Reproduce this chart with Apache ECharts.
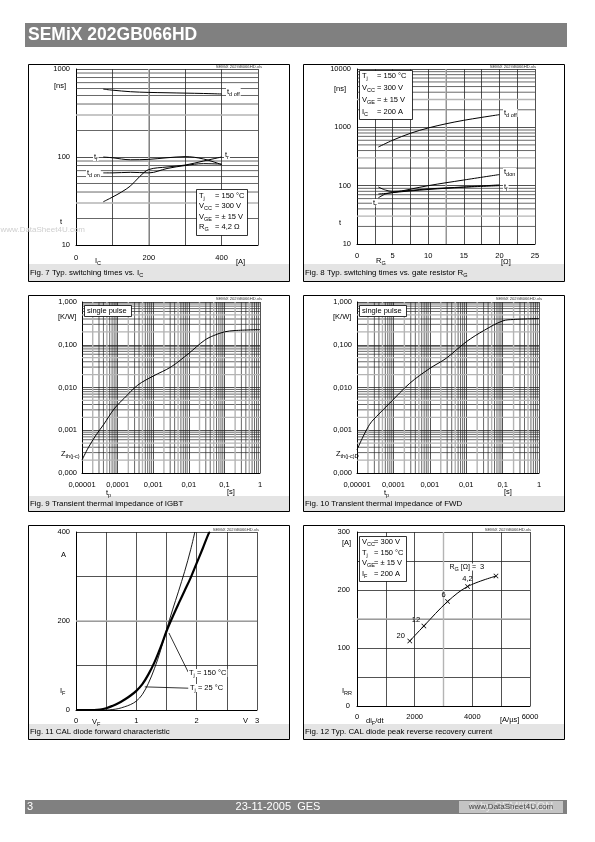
<!DOCTYPE html>
<html><head><meta charset="utf-8">
<script src="https://cdn.jsdelivr.net/npm/echarts@6/dist/echarts.min.js"></script>
<style>html,body{margin:0;padding:0;background:#fff}#c{width:595px;height:842px}</style>
</head><body><div id="c"></div>
<script>
const FONT = '"Liberation Sans", Arial, Helvetica, sans-serif';

// ---------- Fig 7: switching times vs I_C ----------
const f7X = [75, 100, 150, 200, 250, 300, 350, 400];
const f7TdOff = [590, 575, 552, 542, 537, 532, 527, 520];
const f7Tf = [100, 98, 93, 94, 98, 101, 95, 82];
const f7TdOn = [66, 66, 67, 66, 74, 80, 84, 83];
const f7TrX = [75, 100, 125, 150, 175, 200, 250, 300, 350, 400];
const f7Tr = [31, 35, 40, 47, 60, 72, 77, 81, 90, 100];
// ---------- Fig 8: switching times vs R_G ----------
const f8X = [3, 5, 7.5, 10, 12.5, 15, 17.5, 20];
const f8TdOff = [460, 600, 790, 975, 1150, 1320, 1480, 1650];
const f8TdOnX = [3, 5, 10, 15, 20];
const f8TdOn = [72, 76, 100, 125, 155];
const f8TfX = [3, 4, 5, 10, 15, 20];
const f8Tf = [95, 84, 80, 88, 95, 103];
const f8TrX = [3, 4, 5, 10, 15, 20];
const f8Tr = [62, 72, 76, 86, 94, 100];
// ---------- Fig 9: Zth IGBT ----------
const f9T = [1e-5, 1.5e-5, 2.5e-5, 4e-5, 8.3e-5, 1.5e-4, 3.7e-4, 1e-3, 3.2e-3, 0.01, 0.028, 0.05, 0.1, 0.2, 1];
const f9Z = [2.0e-4, 3.9e-4, 7.8e-4, 1.34e-3, 3.3e-3, 5.5e-3, 0.0114, 0.0185, 0.0305, 0.063, 0.128, 0.164, 0.2, 0.215, 0.226];
// ---------- Fig 10: Zth FWD ----------
const f10T = [1e-5, 2.2e-5, 4e-5, 7.9e-5, 2.8e-4, 1e-3, 2.8e-3, 0.01, 0.032, 0.1, 0.2, 1];
const f10Z = [3.5e-4, 1.35e-3, 2.4e-3, 4.3e-3, 0.0125, 0.028, 0.048, 0.117, 0.22, 0.36, 0.39, 0.41];
// ---------- Fig 11: diode forward characteristic ----------
const f11V150 = [0, 0.3, 0.4, 0.5, 0.6, 0.7, 0.8, 0.9, 1.0, 1.1, 1.2, 1.3, 1.4, 1.5, 1.6, 1.7, 1.8, 1.9, 2.0, 2.1, 2.2, 2.22];
const f11I150 = [0, 0, 1, 4, 9, 15, 23, 32, 43, 58, 80, 107, 140, 177, 209, 239, 268, 297, 330, 363, 397, 400];
const f11V25 = [0, 0.5, 0.6, 0.7, 0.8, 0.9, 1.0, 1.1, 1.2, 1.3, 1.4, 1.5, 1.6, 1.7, 1.8, 1.9, 1.97];
const f11I25 = [0, 0, 1, 3, 7, 12, 20, 35, 60, 93, 133, 180, 225, 267, 311, 360, 400];
// ---------- Fig 12: peak reverse recovery current ----------
const f12Di = [1830, 2320, 3140, 3835, 4820];
const f12Irr = [112, 138, 180, 206, 224];
const f12Rg = ['20', '12', '6', '4,2', '3'];

const zip = (xs, ys) => xs.map((x, i) => [x, ys[i]]);

// ---------- layout ----------
const grids = [
  { left: 76, top: 69, width: 182, height: 176 },
  { left: 357, top: 69, width: 178, height: 175 },
  { left: 82, top: 302, width: 178, height: 171 },
  { left: 357, top: 302, width: 182, height: 171 },
  { left: 76, top: 532, width: 181, height: 178 },
  { left: 357, top: 532, width: 173, height: 174 }
];
const extents = [
  [0, 500, 10, 1000], [0, 25, 10, 10000], [1e-5, 1, 1e-4, 1], [1e-5, 1, 1e-4, 1], [0, 3, 0, 400], [0, 6000, 0, 300]
];
const panels = [
  { x: 28, y: 64, w: 261, h: 217, cap: 264, t: 'Fig. 7 Typ. switching times vs. I{s|C}' },
  { x: 303, y: 64, w: 261, h: 217, cap: 264, t: 'Fig. 8 Typ. switching times vs. gate resistor R{s|G}' },
  { x: 28, y: 295, w: 261, h: 216, cap: 496, t: 'Fig. 9 Transient thermal impedance of IGBT' },
  { x: 303, y: 295, w: 261, h: 216, cap: 496, t: 'Fig. 10 Transient thermal impedance of FWD' },
  { x: 28, y: 525, w: 261, h: 214, cap: 724, t: 'Fig. 11 CAL diode forward characteristic' },
  { x: 303, y: 525, w: 261, h: 214, cap: 724, t: 'Fig. 12 Typ. CAL diode peak reverse recovery current' }
];

const DARK = '#262626', GRAY = '#b4b4b4';
const labelBase = { fontSize: 7.5, color: '#000', fontFamily: FONT, showMinLabel: true, showMaxLabel: true, hideOverlap: false };
function axis(i, type, o) {
  const a = {
    gridIndex: i, type: type, min: o.min, max: o.max,
    axisLine: { show: true, onZero: false, lineStyle: { color: '#000', width: 1 } },
    axisTick: { show: false },
    splitLine: { show: true, lineStyle: { color: DARK, width: 0.8 } },
    axisLabel: Object.assign({}, labelBase, { margin: o.margin, formatter: o.fmt })
  };
  if (type === 'log') a.logBase = 10;
  if (o.interval) a.interval = o.interval;
  return a;
}
const logMinors = (lo, hi, mults) => {
  const r = [];
  for (let e = lo; e < hi; e++) mults.forEach(m => r.push(+(m * Math.pow(10, e)).toPrecision(6)));
  return r;
};
function gridLines(i, xs, ys, color, width) {
  const ext = extents[i];
  const data = xs.map(v => [v, ext[3], 0]).concat(ys.map(v => [ext[1], v, 1]));
  return {
    type: 'custom', xAxisIndex: i, yAxisIndex: i, silent: true, z: 1, clip: false,
    dimensions: ['x', 'y', 'o'], encode: { x: 0, y: 1 }, data: data,
    renderItem: function (params, api) {
      const v0 = api.value(0), v1 = api.value(1), o = api.value(2);
      let p1, p2;
      if (o === 0) { p1 = api.coord([v0, ext[2]]); p2 = api.coord([v0, ext[3]]); }
      else { p1 = api.coord([ext[0], v1]); p2 = api.coord([ext[1], v1]); }
      return { type: 'line', shape: { x1: p1[0], y1: p1[1], x2: p2[0], y2: p2[1] }, style: { stroke: color, lineWidth: width } };
    }
  };
}
function curve(i, data, w, extra) {
  return Object.assign({
    type: 'line', xAxisIndex: i, yAxisIndex: i, data: data, smooth: 0.35, symbol: 'none',
    lineStyle: { color: '#000', width: w || 1 }, z: 3, silent: true
  }, extra || {});
}
const decFmt = v => {
  if (v >= 1) return '1';
  const d = Math.round(-Math.log10(v));
  return v.toFixed(d).replace('.', ',');
};
const kwFmt = v => v.toFixed(3).replace('.', ',');

const xAxes = [
  axis(0, 'value', { min: 0, max: 500, interval: 100, margin: 9, fmt: v => (v % 200 === 0 && v < 500) ? String(v) : '' }),
  axis(1, 'value', { min: 0, max: 25, interval: 2.5, margin: 8, fmt: v => (v % 5 === 0) ? String(v) : '' }),
  axis(2, 'log', { min: 1e-5, max: 1, margin: 8, fmt: decFmt }),
  axis(3, 'log', { min: 1e-5, max: 1, margin: 8, fmt: decFmt }),
  axis(4, 'value', { min: 0, max: 3, interval: 0.5, margin: 7, fmt: v => (v % 1 === 0) ? String(v) : '' }),
  axis(5, 'value', { min: 0, max: 6000, interval: 1000, margin: 7, fmt: v => (v % 2000 === 0) ? String(v) : '' })
];
const yAxes = [
  axis(0, 'log', { min: 10, max: 1000, margin: 6, fmt: v => String(Math.round(v)) }),
  axis(1, 'log', { min: 10, max: 10000, margin: 6, fmt: v => String(Math.round(v)) }),
  axis(2, 'log', { min: 1e-4, max: 1, margin: 5, fmt: kwFmt }),
  axis(3, 'log', { min: 1e-4, max: 1, margin: 5, fmt: kwFmt }),
  axis(4, 'value', { min: 0, max: 400, interval: 100, margin: 6, fmt: v => (v % 200 === 0) ? String(v) : '' }),
  axis(5, 'value', { min: 0, max: 300, interval: 50, margin: 7, fmt: v => (v % 100 === 0) ? String(v) : '' })
];

const f12LabelOffsets = [[-9, -5], [-8, -6], [-4, -7], [0, -7.5], [-14, -9]];

const series = [
  gridLines(0, [], logMinors(1, 3, [2, 4, 5, 6, 7, 8, 9]), DARK, 0.7),
  gridLines(0, [200], logMinors(1, 3, [3]), GRAY, 1.4),
  gridLines(1, [], logMinors(1, 4, [2, 4, 5, 6, 7, 8, 9]), DARK, 0.7),
  gridLines(1, [12.5], logMinors(1, 4, [3]), GRAY, 1.4),
  gridLines(2, logMinors(-5, 0, [3, 4, 6, 7, 8, 9]), logMinors(-4, 0, [3, 4, 6, 7, 8, 9]), DARK, 0.7),
  gridLines(2, logMinors(-5, 0, [2, 5]), logMinors(-4, 0, [2, 5]), GRAY, 1.4),
  gridLines(3, logMinors(-5, 0, [3, 4, 6, 7, 8, 9]), logMinors(-4, 0, [3, 4, 6, 7, 8, 9]), DARK, 0.7),
  gridLines(3, logMinors(-5, 0, [2, 5]), logMinors(-4, 0, [2, 5]), GRAY, 1.4),
  gridLines(4, [], [200], GRAY, 1.4),
  gridLines(5, [3000], [150], GRAY, 1.4),
  curve(0, zip(f7X, f7TdOff)),
  curve(0, zip(f7X, f7Tf)),
  curve(0, zip(f7X, f7TdOn)),
  curve(0, zip(f7TrX, f7Tr)),
  curve(1, zip(f8X, f8TdOff)),
  curve(1, zip(f8TdOnX, f8TdOn)),
  curve(1, zip(f8TfX, f8Tf)),
  curve(1, zip(f8TrX, f8Tr)),
  curve(2, zip(f9T, f9Z)),
  curve(3, zip(f10T, f10Z)),
  curve(4, zip(f11V150, f11I150), 2.2),
  curve(4, zip(f11V25, f11I25), 0.9, {
    markLine: {
      silent: true, symbol: ['none', 'none'], label: { show: false }, animation: false,
      lineStyle: { color: '#000', width: 0.8, type: 'solid' },
      data: [[{ coord: [1.54, 173] }, { coord: [1.86, 85] }], [{ coord: [1.14, 52] }, { coord: [1.86, 49] }]]
    }
  }),
  curve(5, zip(f12Di, f12Irr), 1, {
    symbol: 'path://M0,1L1,0L5,4L9,0L10,1L6,5L10,9L9,10L5,6L1,10L0,9L4,5Z', symbolSize: 5, showSymbol: true,
    itemStyle: { color: '#000' }, z: 25,
    data: zip(f12Di, f12Irr).map((d, k) => ({
      value: d,
      label: { show: true, position: 'inside', offset: f12LabelOffsets[k], fontSize: 7.5, fontFamily: FONT, color: '#000', formatter: f12Rg[k] }
    }))
  })
];

// ---------- graphic ----------
const RICH = { s: { fontSize: 5.5, lineHeight: 6, padding: [5, 0, 0, 0], fontFamily: FONT } };
function T(x, y, text, o) {
  o = o || {};
  return {
    type: 'text', x: x, y: y, z: o.z != null ? o.z : 20, silent: true,
    style: Object.assign({
      text: text, fontSize: o.fs || 7.5, fontFamily: FONT, fontWeight: o.fw || 'normal', fill: o.fill || '#000',
      align: o.align || 'left', textAlign: o.align || 'left', verticalAlign: 'middle', textVerticalAlign: 'middle',
      rich: RICH
    }, o.bg ? { backgroundColor: o.bg, padding: [0, 1] } : {})
  };
}
function R(x, y, w, h, fill, stroke, lw, z) {
  return { type: 'rect', z: z != null ? z : 0, silent: true, shape: { x: x, y: y, width: w, height: h },
    style: { fill: fill || 'rgba(0,0,0,0)', stroke: stroke || null, lineWidth: lw || 1 } };
}
const g = [];
g.push(R(25, 23, 542, 24, '#808080'));
g.push(T(28, 35.5, 'SEMiX 202GB066HD', { fs: 17.5, fw: 'bold', fill: '#fff' }));
g.push(R(25, 800, 542, 14, '#808080'));
g.push(T(27, 807, '3', { fs: 11, fill: '#fff' }));
g.push(T(278, 807, '23-11-2005  GES', { fs: 11, fill: '#fff', align: 'center' }));
g.push(R(459, 801, 104, 12, '#c4c4c4', null, 1, 1));
g.push(T(511, 807, '© by SEMIKRON', { fs: 11, fill: '#e8e8e8', align: 'center', z: 2 }));
g.push(T(511, 807, 'www.DataSheet4U.com', { fs: 8, fill: '#444', align: 'center', z: 3 }));
panels.forEach(p => {
  g.push(R(p.x, p.cap, p.w, p.y + p.h - p.cap, '#e4e4e4', null, 1, 0));
  g.push(R(p.x + 0.5, p.y + 0.5, p.w, p.h, null, '#000', 1, 5));
  g.push(T(p.x + 2, (p.cap + p.y + p.h) / 2 + 0.5, p.t, { fs: 7.9 }));
});
[[263, 67], [537, 67], [263, 299], [543, 299], [260, 530], [532, 530]].forEach(q =>
  g.push(T(q[0], q[1], 'SEMiX 202GB066HD.xls', { fs: 4.2, align: 'right', fill: '#333', bg: '#fff' })));
g.push(T(85, 230, 'www.DataSheet4U.com', { fs: 8, fill: '#cfcfcf', align: 'right', z: 30 }));

// Fig 7
g.push(T(54, 86, '[ns]'));
g.push(T(60, 222, 't'));
g.push(T(95, 261, 'I{s|C}'));
g.push(T(236, 262, '[A]'));
g.push(T(226, 92, 't{s|d off}', { bg: '#fff' }));
g.push(T(93, 157, 't{s|f}', { bg: '#fff' }));
g.push(T(86, 173, 't{s|d on}', { bg: '#fff' }));
g.push(T(224, 155, 't{s|r}', { bg: '#fff' }));
g.push(R(196.5, 189.5, 51, 46, '#fff', '#000', 0.8, 15));
['T{s|j}', 'V{s|CC}', 'V{s|GE}', 'R{s|G}'].forEach((t, k) => g.push(T(199, 195.5 + k * 10.5, t)));
['= 150 °C', '= 300 V', '= ± 15 V', '= 4,2 Ω'].forEach((t, k) => g.push(T(215, 195.5 + k * 10.5, t)));

// Fig 8
g.push(T(334, 89, '[ns]'));
g.push(T(339, 223, 't'));
g.push(T(376, 261, 'R{s|G}'));
g.push(T(501, 262, '[Ω]'));
g.push(T(503, 113, 't{s|d off}', { bg: '#fff' }));
g.push(T(503, 172, 't{s|don}', { bg: '#fff' }));
g.push(T(503, 187, 't{s|f}', { bg: '#fff' }));
g.push(T(372, 203, 't{s|r}', { bg: '#fff' }));
g.push(R(359.5, 70.5, 53, 49, '#fff', '#000', 0.8, 15));
['T{s|j}', 'V{s|CC}', 'V{s|GE}', 'I{s|C}'].forEach((t, k) => g.push(T(362, 75.5 + k * 12, t)));
['= 150 °C', '= 300 V', '= ± 15 V', '= 200 A'].forEach((t, k) => g.push(T(377, 75.5 + k * 12, t)));

// Fig 9 / 10
[[0, 'Z{s|th(j-c)}'], [275, 'Z{s|th(j-c)D}']].forEach(([dx, z]) => {
  g.push(T(58 + dx, 317, '[K/W]'));
  g.push(T(61 + dx, 454, z));
  g.push(R(84.5 + dx, 305.5, 47, 11, '#fff', '#000', 0.8, 15));
  g.push(T(87 + dx, 311, 'single pulse'));
});
g.push(T(106, 493, 't{s|p}'));
g.push(T(227, 492, '[s]'));
g.push(T(384, 493, 't{s|p}'));
g.push(T(504, 492, '[s]'));

// Fig 11
g.push(T(61, 555, 'A'));
g.push(T(60, 691, 'I{s|F}'));
g.push(T(92, 722, 'V{s|F}'));
g.push(T(243, 721, 'V'));
g.push(T(188, 673, 'T{s|j} = 150 °C', { bg: '#fff' }));
g.push(T(189, 688, 'T{s|j} = 25 °C', { bg: '#fff' }));

// Fig 12
g.push(T(342, 543, '[A]'));
g.push(T(342, 691, 'I{s|RR}'));
g.push(T(366, 721, 'di{s|F}/dt'));
g.push(T(500, 720, '[A/µs]'));
g.push(T(477, 567, 'R{s|G} [Ω] =', { bg: '#fff', align: 'right', fs: 7 }));
g.push(R(359.5, 536.5, 47, 45, '#fff', '#000', 0.8, 15));
['V{s|CC}', 'T{s|j}', 'V{s|GE}', 'I{s|F}'].forEach((t, k) => g.push(T(362, 542 + k * 10.5, t)));
['= 300 V', '= 150 °C', '= ± 15 V', '= 200 A'].forEach((t, k) => g.push(T(374, 542 + k * 10.5, t)));

const chart = echarts.init(document.getElementById('c'), null, { renderer: 'canvas', width: 595, height: 842 });
chart.setOption({
  animation: false,
  backgroundColor: '#fff',
  grid: grids,
  xAxis: xAxes,
  yAxis: yAxes,
  series: series,
  graphic: { elements: g }
});
</script></body></html>
